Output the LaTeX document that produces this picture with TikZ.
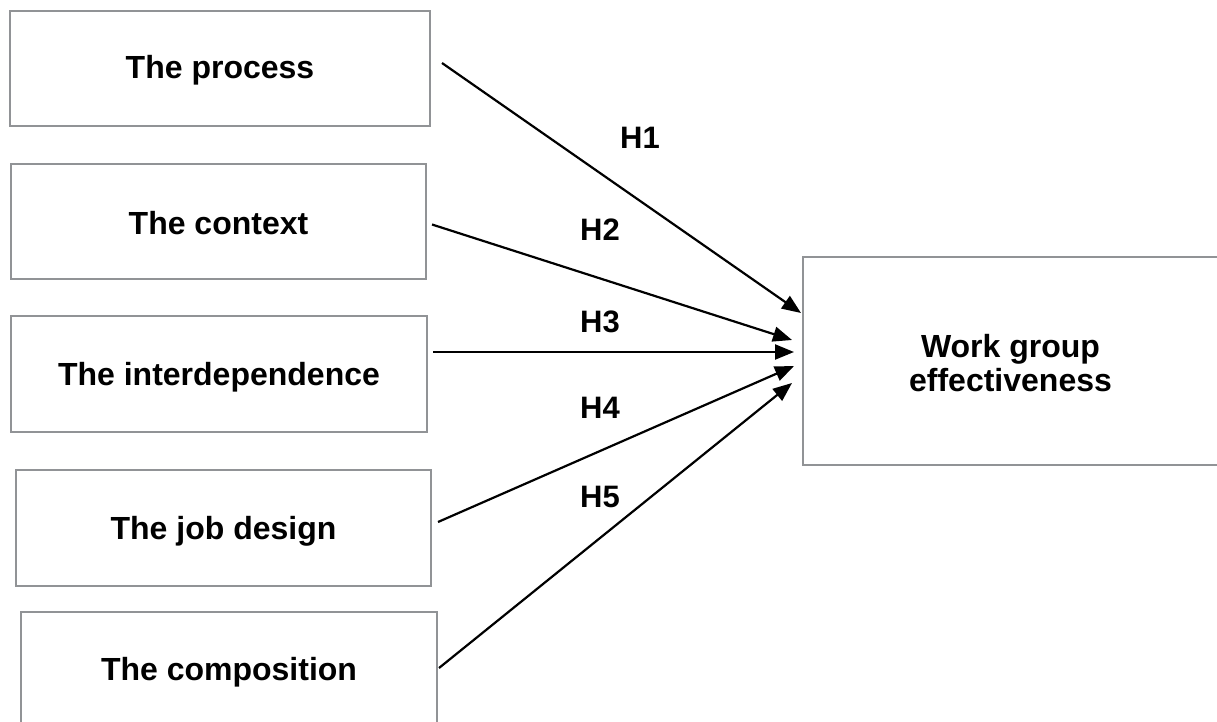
\documentclass[tikz,border=0pt]{standalone}
\usepackage{fontspec}
\setmainfont{Liberation Sans}
\usetikzlibrary{arrows.meta}
\definecolor{boxgray}{RGB}{145,147,150}
\begin{document}
\begin{tikzpicture}[x=1pt,y=-1pt,
  factor/.style={draw=boxgray,line width=2pt,fill=white,minimum width=#1,
    inner sep=0pt,font=\fontsize{32}{34}\selectfont\bfseries,align=center},
  label/.style={font=\fontsize{32}{34}\selectfont\bfseries},
  link/.style={draw=black,line width=2.2pt,-{Triangle[length=19pt,width=15pt]}},
  hyp/.style={font=\fontsize{31}{34}\selectfont\bfseries}]
\useasboundingbox (0,0) rectangle (1217,722);
\fill[white] (0,0) rectangle (1217,722);

% independent factors
\node[factor=420pt,minimum height=115pt] (process) at (220,68.5) {};
\node[label] (processtext) at (220,70) {The process};
\node[factor=415pt,minimum height=115pt] (context) at (218.5,221.5) {};
\node[label] (contexttext) at (218.5,223) {The context};
\node[factor=416pt,minimum height=116pt] (interdep) at (219,374) {};
\node[label] (interdeptext) at (219,377) {The interdependence};
\node[factor=415pt,minimum height=116pt] (jobdesign) at (223.5,528) {};
\node[label] (jobdesigntext) at (223.5,531) {The job design};
\node[factor=416pt,minimum height=120pt] (composition) at (229,672) {};
\node[label] (compositiontext) at (229,672) {The composition};

% outcome
\node[factor=415pt,minimum height=208pt] (wge) at (1010.5,361) {};
\node[label,align=center] (wgetext) at (1010.5,363) {Work group\\effectiveness};

% hypothesised effects
\draw[link] ([xshift=11pt,yshift=5.5pt]process.east) -- ([xshift=-1pt,yshift=48pt]wge.west);
\draw[link] ([xshift=5pt,yshift=-3pt]context.east) -- ([xshift=-10pt,yshift=21pt]wge.west);
\draw[link] ([xshift=5pt,yshift=22pt]interdep.east) -- ([xshift=-8pt,yshift=9pt]wge.west);
\draw[link] ([xshift=6pt,yshift=6pt]jobdesign.east) -- ([xshift=-8pt,yshift=-5pt]wge.west);
\draw[link] ([xshift=1pt,yshift=4pt]composition.east) -- ([xshift=-10pt,yshift=-22pt]wge.west);

\node[hyp] (h1) at (640,138) {H1};
\node[hyp] (h2) at (600,230) {H2};
\node[hyp] (h3) at (600,322) {H3};
\node[hyp] (h4) at (600,408) {H4};
\node[hyp] (h5) at (600,497) {H5};
\end{tikzpicture}
\end{document}
